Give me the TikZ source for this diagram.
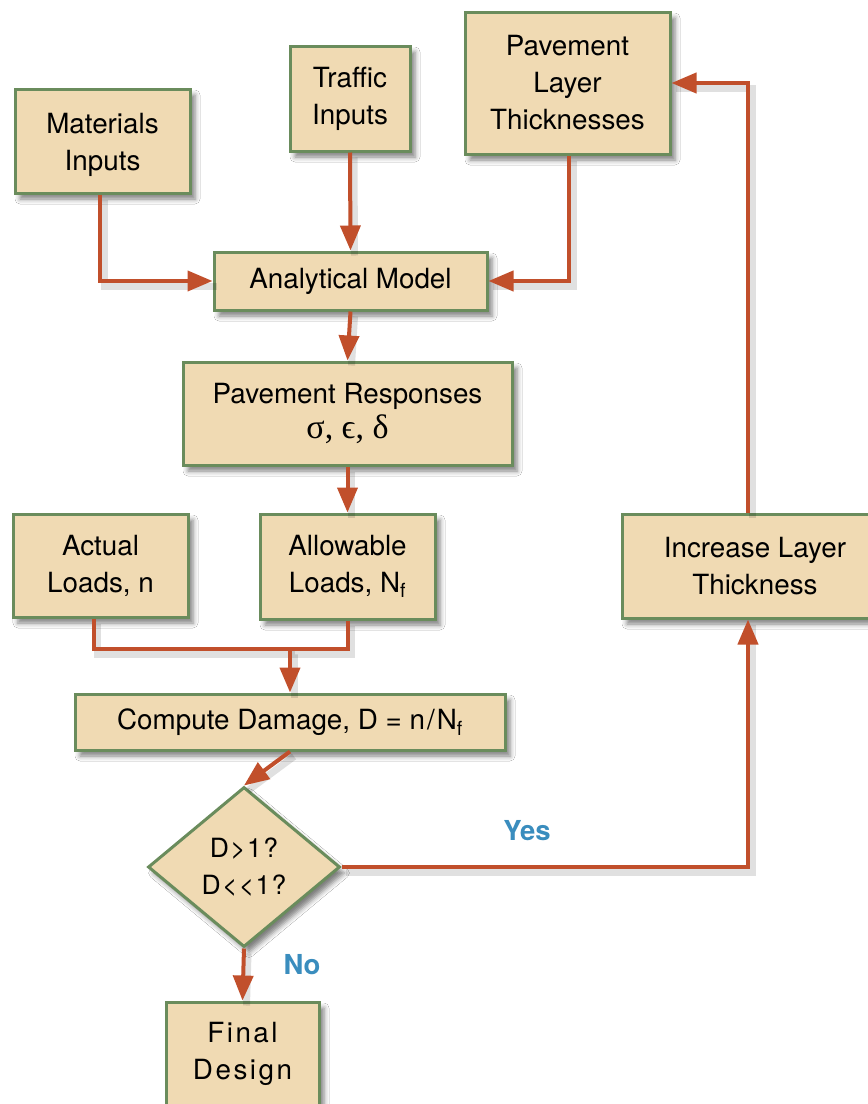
\documentclass[tikz,border=0pt]{standalone}
\usepackage{fontspec}
\setmainfont{TeX Gyre Heros}
\newfontfamily\grk{Liberation Serif}
\newfontfamily\spaced{TeX Gyre Heros}[LetterSpace=9]
\newfontfamily\dspaced{TeX Gyre Heros}[LetterSpace=5]
\usetikzlibrary{arrows.meta,shapes.geometric,shadows.blur}
\definecolor{boxfill}{HTML}{F0DAB3}
\definecolor{boxline}{HTML}{6A8C5C}
\definecolor{arrcol}{HTML}{C14F2B}
\definecolor{lblblue}{HTML}{3A8DBE}
\tikzset{
  box/.style={draw=boxline, line width=3pt, fill=boxfill, rectangle, align=center,
    inner sep=0pt, font=\fontsize{27.8}{37}\selectfont,
    blur shadow={shadow xshift=5pt, shadow yshift=-6pt, shadow blur radius=5pt, shadow opacity=50}},
  decision/.style={box, diamond, aspect=1.2},
  arr/.style={draw=arrcol, line width=4pt, -{Triangle[width=20pt,length=25pt]},
    preaction={draw=black, opacity=0.12, line width=7pt, -, transform canvas={shift={(4pt,-5pt)}}}},
  link/.style={draw=arrcol, line width=4pt,
    preaction={draw=black, opacity=0.12, line width=7pt, transform canvas={shift={(4pt,-5pt)}}}},
  lbl/.style={text=lblblue, font=\fontsize{27.5}{32}\selectfont\bfseries}
}
\begin{document}
\begin{tikzpicture}[x=1pt, y=-1pt]
\useasboundingbox[fill=white] (0,0) rectangle (868,1104);
% nodes
\node[box, minimum width=175, minimum height=104] (mat) at (102.5,141) {\rule{0pt}{28pt}Materials\\Inputs};
\node[box, minimum width=120, minimum height=105] (traf) at (350,98.5) {Traffic\\Inputs};
\node[box, minimum width=205, minimum height=142] (pav) at (567.5,83) {Pavement\\Layer\\Thicknesses};
\node[box, minimum width=273, minimum height=58] (ana) at (350.5,281) {Analytical Model};
\node[box, minimum width=329, minimum height=103] (resp) at (347.5,413.5) {Pavement Responses\\[-2pt]{\grk\fontsize{34}{37}\selectfont σ, ϵ, δ}};
\node[box, minimum width=175, minimum height=103] (act) at (100.5,565.5) {Actual\\Loads, n};
\node[box, minimum width=175, minimum height=105] (allow) at (347.5,566.5) {Allowable\\Loads, N\textsubscript{f}};
\node[box, minimum width=430, minimum height=56] (comp) at (290,722) {Compute Damage, D = n\kern2pt/\kern2pt N\textsubscript{f}};
\node[decision, minimum width=192, minimum height=160] (dia) at (244,867) {\fontsize{26.5}{38}\selectfont\dspaced D>1?\\\fontsize{26.5}{38}\selectfont\dspaced D<<1?};
\node[box, minimum width=153, minimum height=104] (final) at (242.5,1054) {\spaced Final\\\spaced Design};
\node[box, minimum width=266, minimum height=104] (inc) at (755,566) {Increase Layer\\Thickness};
\coordinate (j) at (291,649);
% labels
\node[lbl] (yes) at (527,831) {Yes};
\node[lbl] (no) at (302,965) {No};
% connectors
\draw[arr] ([xshift=-2.5pt]mat.south) |- (ana.west);
\draw[arr] (traf.south) -- (ana.north);
\draw[arr] ([xshift=1.5pt]pav.south) |- (ana.east);
\draw[arr] (ana.south) -- (resp.north);
\draw[arr] (resp.south) -- (allow.north);
\draw[link] ([xshift=-7pt]act.south) |- (allow.south |- j) -- (allow.south);
\draw[arr] (j) -- (j -| comp.north) -- (comp.north);
\draw[arr] (comp.south) -- (dia.north);
\draw[arr] (dia.east) -| ([xshift=-7pt]inc.south);
\draw[arr] ([xshift=-7pt]inc.north) |- (pav.east);
\draw[arr] (dia.south) -- (final.north);
\end{tikzpicture}
\end{document}
